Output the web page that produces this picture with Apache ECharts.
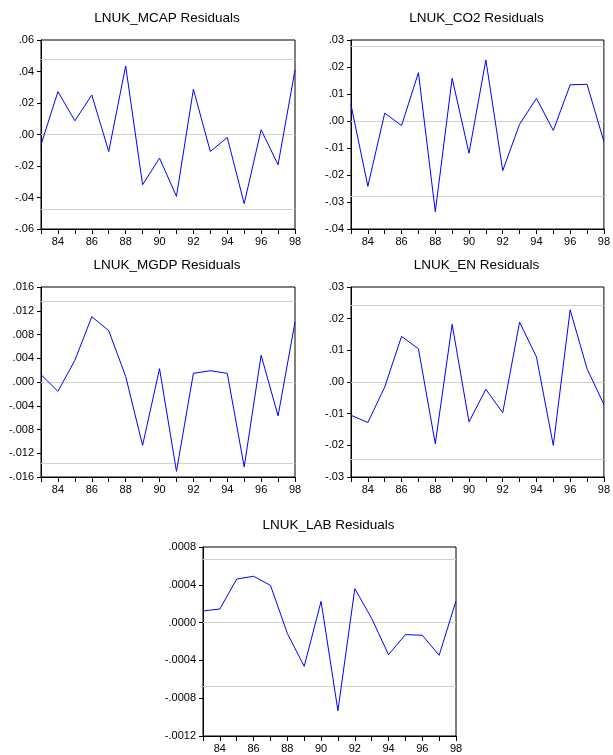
<!DOCTYPE html>
<html>
<head>
<meta charset="utf-8">
<script src="https://cdn.jsdelivr.net/npm/echarts@6/dist/echarts.min.js"></script>
<style>
html,body{margin:0;padding:0;background:#fff;}
#c{width:613px;height:755px;}
</style>
</head>
<body>
<div id="c"></div>
<script>
var years = [83,84,85,86,87,88,89,90,91,92,93,94,95,96,97,98];
var titles = ['LNUK_MCAP Residuals','LNUK_CO2 Residuals','LNUK_MGDP Residuals','LNUK_EN Residuals','LNUK_LAB Residuals'];
var mcap = [-0.0065,0.0272,0.0087,0.0251,-0.0108,0.0435,-0.0319,-0.0150,-0.0393,0.0287,-0.0108,-0.0019,-0.0439,0.0030,-0.0192,0.0410];
var co2  = [0.0060,-0.0242,0.0029,-0.0017,0.0179,-0.0336,0.0158,-0.0119,0.0226,-0.0184,-0.0012,0.0084,-0.0035,0.0134,0.0136,-0.0076];
var mgdp = [0.00124,-0.00157,0.00365,0.0110,0.00865,0.00095,-0.01067,0.00225,-0.01505,0.00146,0.0019,0.00146,-0.0143,0.0045,-0.0057,0.0101];
var en   = [-0.0105,-0.0128,-0.0016,0.0144,0.0105,-0.0195,0.0182,-0.0126,-0.0023,-0.0097,0.0189,0.0079,-0.0200,0.0228,0.0042,-0.0071];
var lab  = [0.000123,0.000144,0.000461,0.00049,0.000394,-0.000114,-0.000463,0.000225,-0.000932,0.000359,0.000045,-0.000339,-0.000127,-0.000134,-0.000346,0.000229];
var bands = [0.0475,0.0278,0.0136,0.0243,0.00067];
var yMin = [-0.06,-0.04,-0.016,-0.03,-0.0012];
var yMax = [0.06,0.03,0.016,0.03,0.0008];
var yStep = [0.02,0.01,0.004,0.01,0.0004];
var yDec = [2,2,3,2,4];

var seriesData = [mcap,co2,mgdp,en,lab];
var grids = [
  {left:41,top:40,width:254,height:189},
  {left:351,top:40,width:253,height:189},
  {left:41,top:287,width:254,height:190},
  {left:351,top:287,width:253,height:190},
  {left:203,top:547,width:253,height:189}
];
var FONT = '"Liberation Sans", Arial, sans-serif';

function fmtY(dec){
  return function(v){
    var s = Math.abs(v).toFixed(dec);
    if (s.charAt(0)==='0') s = s.substring(1);
    if (v < -1e-12) s = '-' + s;
    return s;
  };
}

var option = {
  animation:false,
  backgroundColor:'#fff',
  title:[], grid:[], xAxis:[], yAxis:[], series:[]
};

for (var i=0;i<5;i++){
  var g = grids[i];
  option.title.push({
    text:titles[i],
    left:g.left + g.width/2 - 1,
    top: g.top - 29,
    padding:0,
    textAlign:'center',
    textStyle:{fontFamily:FONT,fontSize:13.5,fontWeight:'normal',color:'#000'}
  });
  option.grid.push({left:g.left,top:g.top,width:g.width,height:g.height,show:true,borderColor:'#000',borderWidth:1,backgroundColor:'transparent'});
  option.xAxis.push({
    type:'value', gridIndex:i, min:83, max:98, interval:1,
    axisLine:{show:true,onZero:false,lineStyle:{color:'#000',width:1}},
    axisTick:{show:true,length:5,lineStyle:{color:'#000'}},
    splitLine:{show:false},
    axisLabel:{fontFamily:FONT,fontSize:11,color:'#000',margin:7,
      formatter:function(v){ return (v%2===0)? String(v) : ''; }}
  });
  option.yAxis.push({
    type:'value', gridIndex:i, min:yMin[i], max:yMax[i], interval:yStep[i],
    axisLine:{show:true,onZero:false,lineStyle:{color:'#000',width:1}},
    axisTick:{show:true,length:4,lineStyle:{color:'#000'}},
    splitLine:{show:false},
    axisLabel:{fontFamily:FONT,fontSize:11,color:'#000',margin:7,formatter:fmtY(yDec[i])}
  });
  var pts = [];
  for (var k=0;k<years.length;k++) pts.push([years[k], seriesData[i][k]]);
  option.series.push({
    type:'line', xAxisIndex:i, yAxisIndex:i, data:pts,
    showSymbol:false, symbol:'none',
    lineStyle:{color:'#0000ff',width:1},
    z:5,
    markLine:{
      silent:true, symbol:['none','none'], label:{show:false},
      animation:false, precision:8,
      lineStyle:{color:'#d0d0d0',width:1,type:'solid'},
      data:[{yAxis:bands[i]},{yAxis:0},{yAxis:-bands[i]}]
    }
  });
}

var chart = echarts.init(document.getElementById('c'),null,{renderer:'canvas'});
chart.setOption(option);
</script>
</body>
</html>
